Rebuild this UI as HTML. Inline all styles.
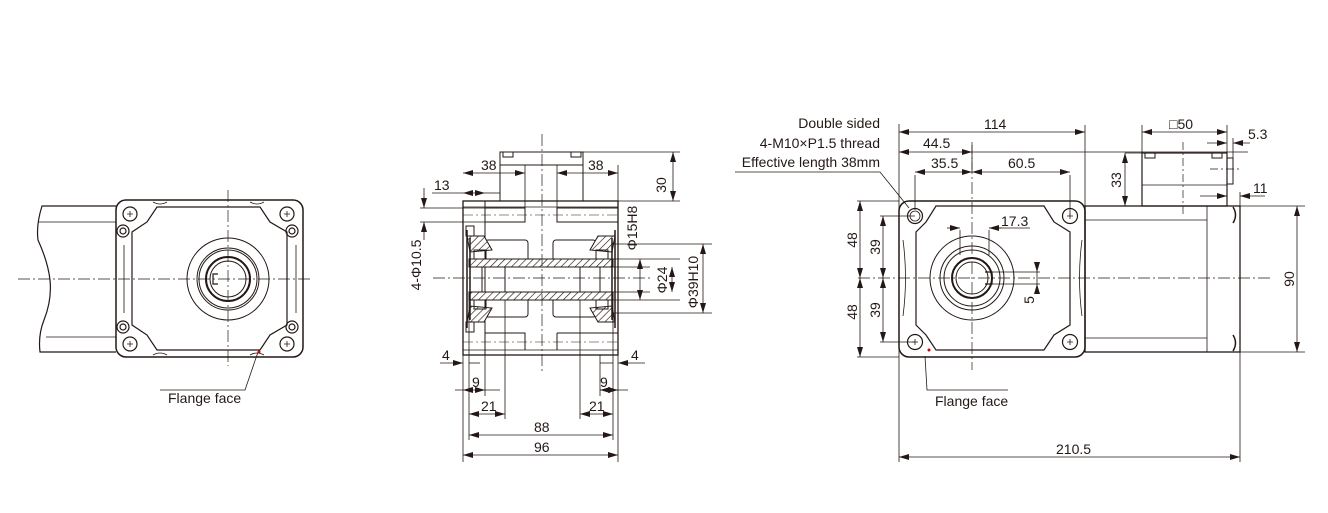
<!DOCTYPE html>
<html><head><meta charset="utf-8"><style>
html,body{margin:0;padding:0;background:#fff;}
svg{display:block;}
text{font-family:"Liberation Sans",sans-serif;font-size:14px;fill:#231815;}
</style></head><body>
<svg width="1328" height="513" viewBox="0 0 1328 513" xmlns="http://www.w3.org/2000/svg">
<defs>
<marker id="a" viewBox="0 0 10 6" refX="10" refY="3" markerWidth="10" markerHeight="6" orient="auto-start-reverse" markerUnits="userSpaceOnUse"><path d="M0,0 L10,3 L0,6z" fill="#231815"/></marker>
<pattern id="h" width="5" height="5" patternUnits="userSpaceOnUse" patternTransform="rotate(45)"><rect width="5" height="5" fill="#fff"/><line x1="0" y1="0" x2="0" y2="5" stroke="#231815" stroke-width="1.3"/></pattern>
</defs>
<g fill="none" stroke="#231815" stroke-width="1">
<!-- ========== LEFT VIEW ========== -->
<path d="M116,206 L42,206 Q36,225 38,240 Q48,262 50,280 Q52,300 44,320 Q38,335 40,352 L116,352" stroke-width="1.2"/>
<path d="M38,222 L116,222 M46,337 L116,337" stroke-width="0.8"/>
<rect x="116" y="200" width="187" height="157" rx="10" stroke-width="1.5"/>
<path d="M157,207 L260,207 L270,222 L287,232 V325 L270,335 L260,350 L157,350 L147,335 L132,325 V232 L147,222z" stroke-width="1.2"/>
<path d="M153,202 Q160,206 167,202 M250,202 Q257,206 264,202 M153,355 Q160,351 167,355 M250,355 Q257,351 264,355" stroke-width="0.8"/>
<path d="M124,245 L124,313 M296,245 L296,313" stroke-width="0.8"/>
<g stroke-width="1.2">
<circle cx="130" cy="214" r="7"/><circle cx="287" cy="214" r="7"/><circle cx="130" cy="344" r="7"/><circle cx="287" cy="344" r="7"/>
<circle cx="123" cy="231" r="6"/><circle cx="292" cy="231" r="6"/><circle cx="123" cy="327" r="6"/><circle cx="292" cy="327" r="6"/>
<circle cx="123" cy="231" r="3"/><circle cx="292" cy="231" r="3"/><circle cx="123" cy="327" r="3"/><circle cx="292" cy="327" r="3"/>
</g>
<path d="M127,214h6M130,211v6M284,214h6M287,211v6M127,344h6M130,341v6M284,344h6M287,341v6" stroke-width="0.8"/>
<circle cx="228" cy="279" r="41" stroke-width="1"/>
<circle cx="228" cy="279" r="31" stroke-width="1"/>
<circle cx="228" cy="279" r="29" stroke-width="1"/>
<circle cx="228" cy="279" r="22" stroke-width="2"/>
<circle cx="228" cy="279" r="18" stroke-width="1"/>
<path d="M218,274 L213,274 L213,284 L218,284" stroke-width="1.2"/>
<path d="M18,279 H311 M228,190 V366" stroke-width="0.7" stroke-dasharray="12,3,2,3"/>
<path d="M258,352 L245,390 L160,390" stroke-width="0.8"/>
<circle cx="259" cy="352" r="1.5" fill="#c00" stroke="none"/>

<!-- ========== MIDDLE VIEW ========== -->
<rect x="463" y="201" width="155" height="154" stroke-width="1.3"/>
<path d="M463,207 H618 M463,350 H618" stroke-width="0.8"/>
<path d="M500,201 V152 H583 V201 M500,165 H583" stroke-width="1"/>
<path d="M503,152 v5 h10 v-5 M571,152 v5 h10 v-5" stroke-width="1"/>
<path d="M485,201 V355" stroke-width="1"/>
<path d="M485,208 H525 V222 H485 M557,208 H618 M557,208 V222 H618 M485,333 H525 V350 M557,333 H618 M557,333 V350" stroke-width="1"/>
<path d="M463,215 H618 M463,342 H618" stroke-width="0.6" stroke-dasharray="10,3,2,3"/>
<rect x="485" y="240" width="43" height="23" rx="3" stroke-width="1"/>
<rect x="553" y="240" width="43" height="23" rx="3" stroke-width="1"/>
<rect x="485" y="294" width="43" height="23" rx="3" stroke-width="1"/>
<rect x="553" y="294" width="43" height="23" rx="3" stroke-width="1"/>
<rect x="469" y="259" width="144" height="8" fill="url(#h)" stroke-width="1"/>
<rect x="469" y="292" width="144" height="8" fill="url(#h)" stroke-width="1"/>
<path d="M505,267 V292 M580,267 V292 M482,267 V292 M600,267 V292" stroke-width="1"/>
<path d="M467,236 L484,236 L492,250 L470,252z M467,322 L484,322 L492,308 L470,306z" fill="url(#h)" stroke-width="1"/>
<path d="M615,236 L598,236 L590,250 L612,252z M615,322 L598,322 L590,308 L612,306z" fill="url(#h)" stroke-width="1"/>
<path d="M467,230 V328 M470,238 V320 M612,238 V320 M615,230 V328" stroke-width="1.5"/>
<rect x="466" y="226" width="8" height="10" stroke-width="1"/><rect x="466" y="322" width="8" height="10" stroke-width="1"/>
<rect x="474" y="250" width="12" height="9" stroke-width="1"/><rect x="596" y="250" width="12" height="9" stroke-width="1"/>
<rect x="474" y="300" width="12" height="9" stroke-width="1"/><rect x="596" y="300" width="12" height="9" stroke-width="1"/>
<path d="M433,278 H650 M542,134 V372" stroke-width="0.7" stroke-dasharray="12,3,2,3"/>
<g stroke-width="0.8">
<path d="M463,201 V462 M618,201 V462 M469,300 V440 M613,300 V440 M485,355 V396 M600,355 V396 M505,300 V419 M580,300 V419"/>
<path d="M463,455 H618" marker-start="url(#a)" marker-end="url(#a)"/>
<path d="M469,435 H613" marker-start="url(#a)" marker-end="url(#a)"/>
<path d="M469,414 H505" marker-start="url(#a)" marker-end="url(#a)"/>
<path d="M580,414 H613" marker-start="url(#a)" marker-end="url(#a)"/>
<path d="M463,390 L485,390" marker-start="url(#a)" marker-end="url(#a)"/>
<path d="M455,390 H463 M485,390 H500 M600,390 L618,390 M618,390 H628" />
<path d="M600,390 L618,390" marker-start="url(#a)" marker-end="url(#a)"/>
<path d="M440,363 H463" marker-end="url(#a)"/><path d="M469,363 H480" />
<path d="M645,363 H618" marker-end="url(#a)"/><path d="M613,363 H600"/>
<path d="M463,173 H525" marker-start="url(#a)" marker-end="url(#a)"/>
<path d="M557,173 H618" marker-start="url(#a)" marker-end="url(#a)"/>
<path d="M525,165 V222 M557,165 V222 M618,165 V201"/>
<path d="M432,193 H463" /><path d="M463,193 H485" marker-start="url(#a)" marker-end="url(#a)"/><path d="M485,193 H500"/>
<path d="M583,152 H680 M618,201 H680"/>
<path d="M673,152 V201" marker-start="url(#a)" marker-end="url(#a)"/>
<path d="M420,208 H485 M420,222 H485 M424,188 V208" marker-end="url(#a)"/><path d="M424,240 V222" marker-end="url(#a)"/>
<path d="M612,244 H712 M612,313 H712 M600,259 H680 M600,300 H680 M600,267 H650 M600,292 H650"/>
<path d="M640,259 V300" marker-start="url(#a)" marker-end="url(#a)"/>
<path d="M672,267 V292" marker-start="url(#a)" marker-end="url(#a)"/>
<path d="M703,244 V313" marker-start="url(#a)" marker-end="url(#a)"/>
</g>

<!-- ========== RIGHT VIEW ========== -->
<rect x="1085" y="206" width="155" height="146" stroke-width="1.3"/>
<path d="M1207,206 V352 M1085,220 H1207 M1085,338 H1207" stroke-width="0.8"/>
<path d="M1233,207 q5,8 0,16 M1233,335 q5,8 0,16" stroke-width="1.5"/>
<rect x="1142" y="153" width="85" height="53" stroke-width="1.2"/>
<path d="M1142,185 H1227" stroke-width="0.8"/>
<path d="M1227,158 h6 v26 h-6" stroke-width="1"/>
<path d="M1145,153 v5 h10 v-5 M1212,153 v5 h10 v-5" stroke-width="1"/>
<rect x="899" y="201" width="186" height="156" rx="10" stroke-width="1.5"/>
<path d="M936,206 L1044,206 L1054,222 L1070,232 V325 L1054,335 L1044,350 L936,350 L926,335 L916,325 V232 L926,222z" stroke-width="1.2"/>
<path d="M903,240 Q908,278 903,316 M1082,240 Q1077,278 1082,316" stroke-width="0.8"/>
<g stroke-width="1.2">
<circle cx="915" cy="216" r="7.5"/><circle cx="1070" cy="216" r="7.5"/><circle cx="915" cy="342" r="7.5"/><circle cx="1070" cy="342" r="7.5"/>
</g>
<circle cx="915" cy="216" r="5" stroke-width="0.8"/>
<path d="M1067,216h6M1070,213v6M912,342h6M915,339v6M1067,342h6M1070,339v6" stroke-width="0.8"/>
<circle cx="972" cy="278" r="42" stroke-width="1"/>
<circle cx="972" cy="278" r="32" stroke-width="1"/>
<circle cx="972" cy="278" r="28" stroke-width="1"/>
<circle cx="972" cy="278" r="20" stroke-width="2"/>
<circle cx="972" cy="278" r="16" stroke-width="1"/>
<path d="M985,272 H992 V284 H985" stroke-width="1.2"/>
<path d="M858,278 H1270 M972,142 V370" stroke-width="0.7" stroke-dasharray="12,3,2,3"/>
<path d="M1183,142 V214 M1210,169 H1240" stroke-width="0.7" stroke-dasharray="8,3,2,3"/>
<path d="M735,172 H880 L909,208" stroke-width="0.8"/>
<path d="M925,356 L927,390 H1008" stroke-width="0.8"/>
<circle cx="929" cy="350" r="1.5" fill="#c00" stroke="none"/>
<g stroke-width="0.8">
<path d="M899,124 V462 M1240,330 V462 M1085,125 V206 M972,145 V170 M1070,175 V216 M915,175 V210"/>
<path d="M899,132 H1085" marker-start="url(#a)" marker-end="url(#a)"/>
<path d="M1142,132 H1227" marker-start="url(#a)" marker-end="url(#a)"/>
<path d="M1142,125 V153 M1227,125 V206"/>
<path d="M899,152 H972" marker-start="url(#a)" marker-end="url(#a)"/><path d="M972,152 H1248"/>
<path d="M915,172 H972" marker-start="url(#a)" marker-end="url(#a)"/>
<path d="M972,172 H1070" marker-start="url(#a)" marker-end="url(#a)"/>
<path d="M1207,143 H1227" marker-end="url(#a)"/><path d="M1250,143 H1233" marker-end="url(#a)"/><path d="M1233,138 V160"/>
<path d="M1200,196 H1227" marker-end="url(#a)"/><path d="M1265,196 H1240" marker-end="url(#a)"/><path d="M1240,192 V206"/>
<path d="M1125,153 H1142 M1125,206 H1142"/>
<path d="M1125,153 V206" marker-start="url(#a)" marker-end="url(#a)"/>
<path d="M899,457 H1240" marker-start="url(#a)" marker-end="url(#a)"/>
<path d="M1240,206 H1305 M1240,352 H1305"/>
<path d="M1297,206 V352" marker-start="url(#a)" marker-end="url(#a)"/>
<path d="M857,201 H899 M857,357 H899 M880,216 H915 M880,342 H915"/>
<path d="M860,201 V278" marker-start="url(#a)" marker-end="url(#a)"/>
<path d="M860,278 V357" marker-start="url(#a)" marker-end="url(#a)"/>
<path d="M883,216 V278" marker-start="url(#a)" marker-end="url(#a)"/>
<path d="M883,278 V342" marker-start="url(#a)" marker-end="url(#a)"/>
<path d="M960,230 V255 M989,230 V255"/>
<path d="M947,228 H960" marker-end="url(#a)"/><path d="M1002,228 H989" marker-end="url(#a)"/><path d="M989,228 H1030"/>
<path d="M992,272 H1040 M992,284 H1040"/>
<path d="M1037,262 V272" marker-end="url(#a)"/><path d="M1037,294 V284" marker-end="url(#a)"/><path d="M1037,272 V284"/>
</g>
</g>

<text x="168" y="403">Flange face</text>
<text x="481" y="170">38</text>
<text x="588" y="170">38</text>
<text x="434" y="190">13</text>
<text x="666" y="185" transform="rotate(-90 666 185)" text-anchor="middle">30</text>
<text x="421" y="265" transform="rotate(-90 421 265)" text-anchor="middle">4-Φ10.5</text>
<text x="637" y="228" transform="rotate(-90 637 228)" text-anchor="middle">Φ15H8</text>
<text x="667" y="280" transform="rotate(-90 667 280)" text-anchor="middle">Φ24</text>
<text x="698" y="282" transform="rotate(-90 698 282)" text-anchor="middle">Φ39H10</text>
<text x="442" y="360">4</text>
<text x="631" y="360">4</text>
<text x="472" y="387">9</text>
<text x="600" y="387">9</text>
<text x="481" y="411">21</text>
<text x="589" y="411">21</text>
<text x="534" y="432">88</text>
<text x="534" y="452">96</text>
<text x="880" y="128" text-anchor="end">Double sided</text>
<text x="880" y="148" text-anchor="end">4-M10×P1.5 thread</text>
<text x="880" y="167" text-anchor="end">Effective length 38mm</text>
<text x="984" y="129">114</text>
<text x="923" y="148">44.5</text>
<text x="931" y="168">35.5</text>
<text x="1008" y="168">60.5</text>
<text x="1169" y="129">□50</text>
<text x="1248" y="139">5.3</text>
<text x="1253" y="193">11</text>
<text x="1121" y="180" transform="rotate(-90 1121 180)" text-anchor="middle">33</text>
<text x="1001" y="226">17.3</text>
<text x="1034" y="300" transform="rotate(-90 1034 300)" text-anchor="middle">5</text>
<text x="857" y="240" transform="rotate(-90 857 240)" text-anchor="middle">48</text>
<text x="857" y="312" transform="rotate(-90 857 312)" text-anchor="middle">48</text>
<text x="880" y="247" transform="rotate(-90 880 247)" text-anchor="middle">39</text>
<text x="880" y="310" transform="rotate(-90 880 310)" text-anchor="middle">39</text>
<text x="1294" y="279" transform="rotate(-90 1294 279)" text-anchor="middle">90</text>
<text x="935" y="406">Flange face</text>
<text x="1056" y="454">210.5</text>
</svg>
</body></html>
